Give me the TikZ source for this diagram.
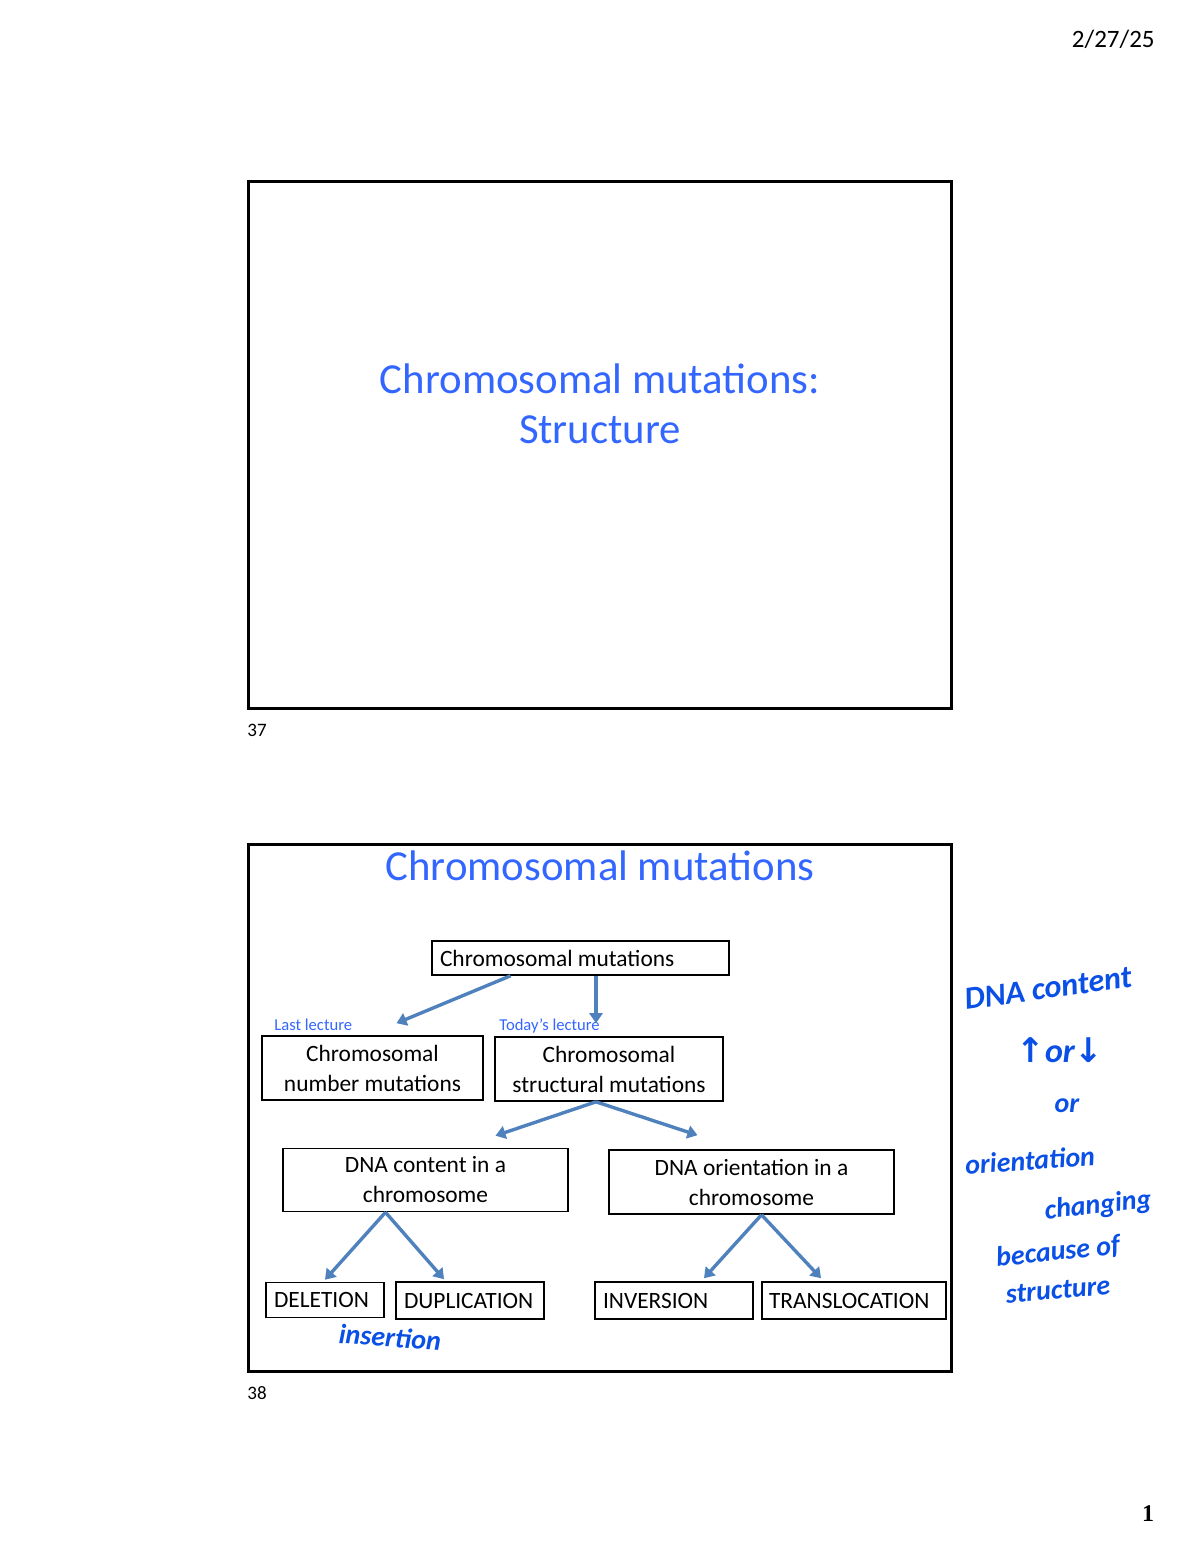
\documentclass[tikz,border=0pt]{standalone}
\usepackage{fontspec}
\setmainfont{Carlito}
\newfontfamily\symfont{DejaVu Sans}
\newfontfamily\numfont{Liberation Serif}
\usetikzlibrary{arrows.meta}
\definecolor{titleblue}{HTML}{3366FF}
\definecolor{arrowblue}{HTML}{4F81BD}
\definecolor{inkblue}{HTML}{0A50E6}

\begin{document}
\begin{tikzpicture}[x=0.5pt, y=-0.5pt,
  frame/.style={draw, line width=1.5pt},
  box/.style={draw, rectangle, line width=0.8pt, align=center, inner sep=0pt, font=\fontsize{11.7}{15}\selectfont},
  title/.style={text=titleblue, align=center, font=\fontsize{21.4}{25}\selectfont},
  note/.style={text=titleblue, inner sep=0pt, anchor=west, font=\fontsize{8.3}{10}\selectfont},
  pnum/.style={inner sep=0pt, anchor=west, font=\fontsize{9.5}{11}\selectfont},
  ink/.style={text=inkblue, inner sep=0pt, font=\fontsize{14}{15}\selectfont\bfseries\itshape},
  arr/.style={-{Triangle[width=6.5pt,length=5pt]}, line width=1.7pt, draw=arrowblue}]
  \useasboundingbox (0,0) rectangle (1200,1553);
  % header and page footer
  \node[inner sep=0pt, anchor=east, font=\fontsize{12.5}{14}\selectfont] (date) at (1155,39) {2/27/25};
  \node[inner sep=0pt, font=\numfont\fontsize{12}{14}\selectfont\bfseries] (page) at (1148,1514) {1};

  % slide 37
  \draw[frame] (248,181) rectangle (951,708);
  \node[title] (t37) at (600,404) {Chromosomal mutations:\\Structure};
  \node[pnum] (n37) at (247,730) {37};

  % slide 38
  \draw[frame] (248,844) rectangle (951,1371);
  \node[title] (t38) at (600,866) {Chromosomal mutations};
  \node[pnum] (n38) at (247,1393) {38};

  \node[box, minimum width=148.5pt, minimum height=17pt, text width=140.5pt, align=flush left] (cm) at (580.5,958) {Chromosomal mutations};
  \node[box, minimum width=110.5pt, minimum height=32pt] (num) at (372.5,1068) {Chromosomal\\number mutations};
  \node[box, minimum width=114pt, minimum height=32pt] (str) at (609,1069) {Chromosomal\\structural mutations};
  \node[note] (last) at (274,1025) {Last lecture};
  \node[note] (today) at (499,1026) {Today’s lecture};
  \node[box, minimum width=142.5pt, minimum height=31.5pt] (cont) at (425.5,1180) {DNA content in a\\chromosome};
  \node[box, minimum width=142.5pt, minimum height=32pt] (orient) at (751.5,1182) {DNA orientation in a\\chromosome};
  \node[box, minimum width=59pt, minimum height=17.5pt, text width=51pt, align=flush left] (del) at (325,1300) {DELETION};
  \node[box, minimum width=74pt, minimum height=18.5pt, text width=66pt, align=flush left] (dup) at (470,1300.5) {DUPLICATION};
  \node[box, minimum width=79pt, minimum height=18.5pt, text width=71pt, align=flush left] (inv) at (674,1300.5) {INVERSION};
  \node[box, minimum width=92pt, minimum height=18.5pt, text width=85pt, align=flush left] (trans) at (854,1300.5) {TRANSLOCATION};

  \draw[arr] ([xshift=-35pt]cm.south) -- ([xshift=12pt, yshift=6pt]num.north);
  \draw[arr] ([xshift=7.75pt]cm.south) -- ([xshift=-6.5pt, yshift=6.5pt]str.north);
  \draw[arr] ([xshift=-6.5pt]str.south) -- ([xshift=35pt, yshift=6pt]cont.north);
  \draw[arr] ([xshift=-6.5pt]str.south) -- ([xshift=-27pt, yshift=7pt]orient.north);
  \draw[arr] ([xshift=-20pt]cont.south) -- ([yshift=1pt]del.north);
  \draw[arr] ([xshift=-20pt]cont.south) -- ([xshift=-13pt, yshift=1pt]dup.north);
  \draw[arr] ([xshift=5pt]orient.south) -- ([xshift=15pt, yshift=1.5pt]inv.north);
  \draw[arr] ([xshift=5pt]orient.south) -- ([xshift=-16.5pt, yshift=1.5pt]trans.north);

  % handwritten notes
  \node[ink, rotate=-4] (ins) at (390,1337) {insertion};
  \node[ink, rotate=8, font=\fontsize{16}{17}\selectfont\bfseries\itshape] (h1) at (1048,988) {DNA content};
  \node[ink, font=\fontsize{17}{18}\selectfont\bfseries\itshape] (h2) at (1060,1050) {{\symfont↑}or{\symfont↓}};
  \node[ink] (h3) at (1067,1106) {or};
  \node[ink, rotate=4] (h4) at (1030,1160) {orientation};
  \node[ink, rotate=6] (h5) at (1098,1206) {changing};
  \node[ink, rotate=6] (h6) at (1058,1252) {because of};
  \node[ink, rotate=5] (h7) at (1058,1290) {structure};
\end{tikzpicture}
\end{document}
